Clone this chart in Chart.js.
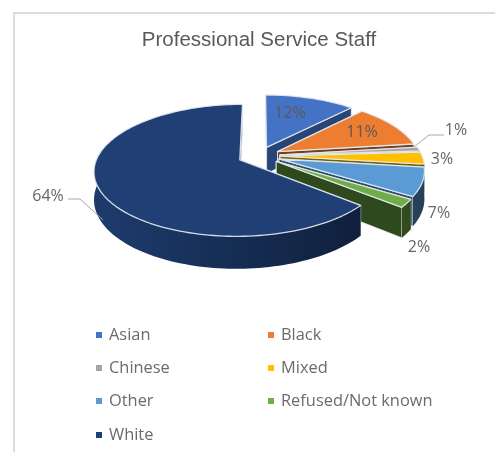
<!DOCTYPE html>
<html>
<head>
<meta charset="utf-8">
<title>Professional Service Staff</title>
<script src="https://cdn.jsdelivr.net/npm/chart.js@4"></script>
<style>
    html, body { margin: 0; padding: 0; background: #fff; }
    #wrap { position: relative; width: 495px; height: 452px; overflow: hidden; }
    #frame { position: absolute; left: 13px; top: 12px; right: -4px; bottom: -4px; border-left: 2px solid #dcdcdc; border-top: 2px solid #dcdcdc; }
    canvas { position: absolute; left: 0; top: 0; }
</style>
</head>
<body>
<div id="wrap">
    <div id="frame"></div>
    <canvas id="staffChart" width="495" height="452"></canvas>
</div>
<script>
const categories = ['Asian', 'Black', 'Chinese', 'Mixed', 'Other', 'Refused/Not known', 'White'];
const shares = [12, 11, 1, 3, 7, 2, 64];
const sliceColors = ['#4472c4', '#ed7d31', '#a5a5a5', '#ffc000', '#5b9bd5', '#70ad47', '#1f3f75'];
const cutShades = [0.6, 0.5, 0.5, 0.5, 0.5, 0.42, 0.5];

// label centre for each slice, plus leader lines where the label sits away from its slice
const labelSpots = [[290, 113], [362, 132], [456, 130], [442, 159], [439, 213], [419, 247], [48, 196]];
const leaders = [
    [[444, 135], [429, 135], [414, 147]],
    [[68, 199], [80, 199], [103, 220]]
];

// legend grid
const legendCols = [96, 268];
const legendRows = [335, 368, 401, 435];

// 3d view settings
const squash = 0.444;
const viewDist = 900;
const wallHeight = 27;

function project(cx, cy, x, y, drop) {
    const s = viewDist / (viewDist - y);
    return [cx + x * s, cy + (y * squash + drop) * s];
}

function shade(hex, f) {
    const n = parseInt(hex.slice(1), 16);
    const r = Math.round((n >> 16) * f), g = Math.round(((n >> 8) & 255) * f), b = Math.round((n & 255) * f);
    return `rgb(${r},${g},${b})`;
}

// outline of one slice's rim, sampled from the arc angles chart.js worked out
function rimPoints(arc, from, to) {
    const steps = Math.max(2, Math.ceil((to - from) / 0.03));
    const pts = [];
    for (let i = 0; i <= steps; i++) {
        const a = from + (to - from) * i / steps;
        pts.push([Math.cos(a) * arc.outerRadius, Math.sin(a) * arc.outerRadius]);
    }
    return pts;
}

function fillPath(ctx, pts, fill, stroke, lineWidth) {
    ctx.beginPath();
    pts.forEach((p, i) => i ? ctx.lineTo(p[0], p[1]) : ctx.moveTo(p[0], p[1]));
    ctx.closePath();
    ctx.fillStyle = fill;
    ctx.fill();
    if (stroke) {
        ctx.strokeStyle = stroke;
        ctx.lineWidth = lineWidth;
        ctx.lineJoin = 'round';
        ctx.stroke();
    }
}

function drawSlice(ctx, arc, color, cutShade) {
    const mid = (arc.startAngle + arc.endAngle) / 2;
    const off = arc.options.offset / 4;
    const ox = Math.cos(mid) * off, oy = Math.sin(mid) * off;
    const top = (p) => project(arc.x, arc.y, ox + p[0], oy + p[1], 0);
    const low = (p) => project(arc.x, arc.y, ox + p[0], oy + p[1], wallHeight);
    const rim = rimPoints(arc, arc.startAngle, arc.endAngle);
    const apex = [0, 0];
    const edge = 'rgba(228,234,242,0.9)';

    // the two cut faces
    [rim[0], rim[rim.length - 1]].forEach((p) => {
        fillPath(ctx, [top(apex), top(p), low(p), low(apex)], shade(color, cutShade), edge, 1);
    });

    // outer wall, darkening to the right
    const grad = ctx.createLinearGradient(arc.x - 170, 0, arc.x + 170, 0);
    grad.addColorStop(0, shade(color, 0.95));
    grad.addColorStop(1, shade(color, 0.4));
    const nearRim = rim.filter((p) => p[1] + oy > -30);
    if (nearRim.length > 1) {
        fillPath(ctx, nearRim.map(top).concat(nearRim.slice().reverse().map(low)), grad);
    }

    fillPath(ctx, [top(apex)].concat(rim.map(top)), color, edge, 1.3);
}

const pie3dPlugin = {
    id: 'pie3d',
    beforeDatasetDraw(chart, args) {
        const ctx = chart.ctx;
        const arcs = chart.getDatasetMeta(args.index).data;
        ctx.save();
        arcs.forEach((arc, i) => drawSlice(ctx, arc, sliceColors[i], cutShades[i]));
        ctx.restore();
        return false;
    },
    afterDraw(chart) {
        const ctx = chart.ctx;
        ctx.save();

        ctx.strokeStyle = '#a6a6a6';
        ctx.lineWidth = 1;
        leaders.forEach((line) => {
            ctx.beginPath();
            line.forEach((p, i) => i ? ctx.lineTo(p[0], p[1]) : ctx.moveTo(p[0], p[1]));
            ctx.stroke();
        });

        ctx.font = '16px "Open Sans"';
        ctx.textAlign = 'center';
        ctx.textBaseline = 'middle';
        shares.forEach((v, i) => {
            ctx.fillStyle = i < 2 ? '#5a5a5a' : '#666';
            ctx.fillText(v + '%', labelSpots[i][0], labelSpots[i][1]);
        });

        // two column legend
        ctx.textAlign = 'left';
        ctx.font = '16.4px "Open Sans"';
        categories.forEach((name, i) => {
            const x = legendCols[i % 2], y = legendRows[Math.floor(i / 2)];
            ctx.fillStyle = sliceColors[i];
            ctx.fillRect(x, y - 3, 6, 6);
            ctx.fillStyle = '#6b6b6b';
            ctx.fillText(name, x + 13, y);
        });
        ctx.restore();
    }
};

new Chart(document.getElementById('staffChart').getContext('2d'), {
    type: 'pie',
    data: {
        labels: categories,
        datasets: [{
            data: shares,
            backgroundColor: sliceColors,
            radius: 142,
            offset: 84,
            borderWidth: 0
        }]
    },
    options: {
        responsive: false,
        animation: false,
        layout: { padding: { left: 23, bottom: 193 } },
        plugins: {
            legend: { display: false },
            tooltip: { enabled: false },
            title: {
                display: true,
                text: 'Professional Service Staff',
                color: '#595959',
                font: { family: '"Liberation Sans"', size: 20.5, weight: 'normal' },
                padding: { top: 28, bottom: 0 }
            }
        }
    },
    plugins: [pie3dPlugin]
});
</script>
</body>
</html>
